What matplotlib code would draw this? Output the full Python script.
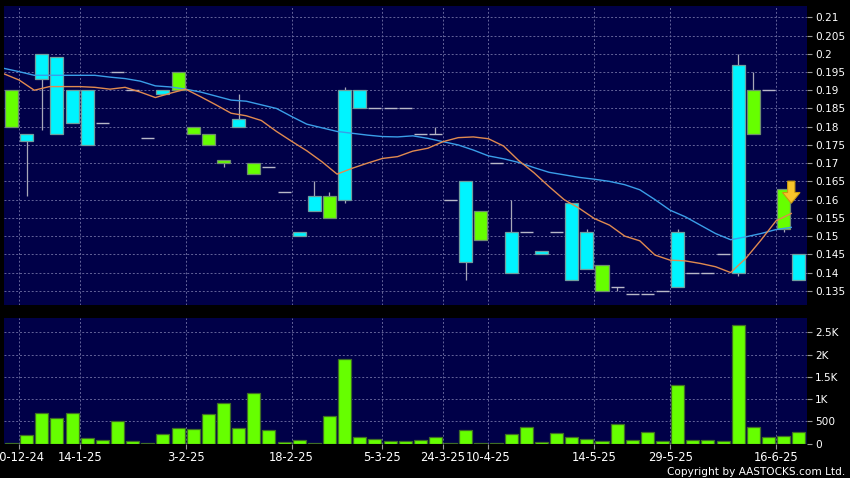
import numpy as np
import matplotlib.pyplot as plt
from matplotlib.patches import Polygon

# OHLC per trading session (53 candles)
opens = [0.180, 0.178, 0.200, 0.199, 0.190, 0.190, 0.181, 0.195, 0.190, 0.177,
         0.190, 0.190, 0.178, 0.175, 0.170, 0.182, 0.167, 0.169, 0.162, 0.151,
         0.161, 0.155, 0.190, 0.190, 0.185, 0.185, 0.185, 0.178, 0.178, 0.160,
         0.165, 0.149, 0.170, 0.151, 0.151, 0.146, 0.151, 0.159, 0.151, 0.135,
         0.136, 0.134, 0.134, 0.135, 0.151, 0.140, 0.140, 0.145, 0.197, 0.178,
         0.190, 0.152, 0.145]
highs = [0.190, 0.178, 0.200, 0.199, 0.190, 0.190, 0.181, 0.195, 0.190, 0.177,
         0.190, 0.195, 0.180, 0.178, 0.171, 0.189, 0.170, 0.169, 0.162, 0.151,
         0.165, 0.162, 0.191, 0.190, 0.185, 0.185, 0.185, 0.178, 0.180, 0.160,
         0.165, 0.157, 0.170, 0.160, 0.151, 0.146, 0.151, 0.159, 0.152, 0.142,
         0.136, 0.134, 0.134, 0.135, 0.152, 0.140, 0.140, 0.145, 0.200, 0.195,
         0.190, 0.163, 0.145]
lows = [0.180, 0.161, 0.179, 0.178, 0.181, 0.175, 0.181, 0.195, 0.190, 0.177,
        0.189, 0.190, 0.178, 0.175, 0.169, 0.180, 0.167, 0.169, 0.162, 0.150,
        0.157, 0.155, 0.159, 0.185, 0.185, 0.185, 0.185, 0.178, 0.178, 0.160,
        0.138, 0.149, 0.170, 0.140, 0.151, 0.145, 0.151, 0.138, 0.141, 0.135,
        0.135, 0.134, 0.134, 0.135, 0.136, 0.140, 0.140, 0.145, 0.139, 0.178,
        0.190, 0.151, 0.138]
closes = [0.190, 0.176, 0.193, 0.178, 0.181, 0.175, 0.181, 0.195, 0.190, 0.177,
          0.189, 0.195, 0.180, 0.178, 0.171, 0.180, 0.170, 0.169, 0.162, 0.150,
          0.157, 0.161, 0.160, 0.185, 0.185, 0.185, 0.185, 0.178, 0.178, 0.160,
          0.143, 0.157, 0.170, 0.140, 0.151, 0.145, 0.151, 0.138, 0.141, 0.142,
          0.136, 0.134, 0.134, 0.135, 0.136, 0.140, 0.140, 0.145, 0.140, 0.190,
          0.190, 0.163, 0.138]
volumes = [20, 195, 695, 583, 688, 128, 83, 502, 60, 5,
           217, 359, 336, 666, 905, 359, 1130, 307, 38, 83,
           20, 628, 1892, 143, 105, 60, 68, 83, 157, 22,
           307, 22, 7, 217, 382, 30, 240, 142, 105, 52,
           434, 75, 254, 60, 1317, 75, 75, 60, 2665, 382,
           157, 180, 254]

# moving averages (orange = short, blue = long)
ma_short = [0.1945, 0.1928, 0.1900, 0.1910, 0.1910, 0.1910, 0.1908, 0.1903, 0.1908, 0.1895,
            0.1880, 0.1892, 0.1903, 0.1882, 0.1860, 0.1837, 0.1830, 0.1817, 0.1787, 0.1760,
            0.1734, 0.1704, 0.1670, 0.1686, 0.1700, 0.1713, 0.1718, 0.1733, 0.1741, 0.1759,
            0.1770, 0.1772, 0.1767, 0.1747, 0.1707, 0.1674, 0.1636, 0.1600, 0.1576, 0.1548,
            0.1530, 0.1500, 0.1487, 0.1448, 0.1434, 0.1432, 0.1425, 0.1416, 0.1400, 0.1439,
            0.1489, 0.1542, 0.1562]
ma_long = [0.1960, 0.1951, 0.1941, 0.1941, 0.1941, 0.1941, 0.1941, 0.1936, 0.1932, 0.1925,
           0.1912, 0.1909, 0.1903, 0.1895, 0.1884, 0.1873, 0.1870, 0.1860, 0.1850, 0.1828,
           0.1807, 0.1797, 0.1787, 0.1782, 0.1777, 0.1773, 0.1772, 0.1775, 0.1768, 0.1759,
           0.1750, 0.1736, 0.1720, 0.1712, 0.1702, 0.1688, 0.1675, 0.1668, 0.1661, 0.1656,
           0.1650, 0.1641, 0.1627, 0.1600, 0.1571, 0.1553, 0.1530, 0.1507, 0.1490, 0.1498,
           0.1507, 0.1518, 0.1524]

date_labels = ['10-12-24', '14-1-25', '3-2-25', '18-2-25', '5-3-25',
               '24-3-25', '10-4-25', '14-5-25', '29-5-25', '16-6-25']
date_index = [1, 5, 12, 19, 25, 29, 32, 39, 44, 51]

price_ticks = [0.135, 0.14, 0.145, 0.15, 0.155, 0.16, 0.165, 0.17, 0.175,
               0.18, 0.185, 0.19, 0.195, 0.2, 0.205, 0.21]
vol_ticks = [0, 500, 1000, 1500, 2000, 2500]
vol_tick_labels = ['0', '500', '1K', '1.5K', '2K', '2.5K']

arrow_candle = 51
arrow_tip = 0.159

NAVY = '#000048'
CYAN = '#00f4ff'
LIME = '#66ff00'
GRID = '#64649a'

fig = plt.figure(figsize=(8.5, 4.78), dpi=100, facecolor='black')
ax = fig.add_axes([0.0047, 0.3619, 0.9447, 0.6255])
axv = fig.add_axes([0.0047, 0.0718, 0.9447, 0.2623])

n = len(opens)
xc = np.arange(n) + 0.5
xm = np.arange(n)
o = np.array(opens)
c = np.array(closes)
w = 0.86

for a in (ax, axv):
    a.set_facecolor(NAVY)
    for s in a.spines.values():
        s.set_visible(False)
    a.yaxis.tick_right()
    a.set_xlim(0, n + 0.04)
    a.set_xticks(date_index)
    a.grid(True, color=GRID, linestyle=(0, (2, 2)), linewidth=0.7)
    a.set_axisbelow(True)
    a.tick_params(axis='y', colors='#9a9a9a', labelcolor='white', labelsize=7.6,
                  length=3.5, width=0.8, pad=2.5)

# price panel
ax.set_ylim(0.1311, 0.2131)
ax.set_yticks(price_ticks)
ax.set_yticklabels([f'{t:g}' for t in price_ticks])
ax.tick_params(axis='x', length=0, labelbottom=False)

ax.vlines(xc, lows, highs, color='#a8a8b8', linewidth=0.9, zorder=2)
flat = o == c
up = (c > o) & ~flat
down = (c < o) & ~flat
ax.bar(xc[up], (c - o)[up], bottom=o[up], width=w, color=LIME,
       edgecolor='#6f8f6f', linewidth=0.9, zorder=3)
ax.bar(xc[down], (o - c)[down], bottom=c[down], width=w, color=CYAN,
       edgecolor='#6f9f9f', linewidth=0.9, zorder=3)
ax.hlines(c[flat], xc[flat] - w / 2, xc[flat] + w / 2, color='#b8b8c8',
          linewidth=1.0, zorder=3)

ax.plot(xm, ma_long, color='#3a9ee8', linewidth=1.0, zorder=4)
ax.plot(xm, ma_short, color='#e08a50', linewidth=1.0, zorder=4)

# down arrow marker beside the candle
ax_x = xc[arrow_candle] + 0.5
span = ax.get_ylim()[1] - ax.get_ylim()[0]
tip = arrow_tip
head = tip + span * 0.036
top = tip + span * 0.074
arrow = Polygon([(ax_x - 0.24, top), (ax_x + 0.24, top), (ax_x + 0.24, head),
                 (ax_x + 0.58, head), (ax_x, tip), (ax_x - 0.58, head),
                 (ax_x - 0.24, head)], closed=True, facecolor='#f7c52a',
                edgecolor='#c99a10', linewidth=0.8, zorder=5)
ax.add_patch(arrow)

# volume panel
axv.set_ylim(0, 2814)
axv.set_yticks(vol_ticks)
axv.set_yticklabels(vol_tick_labels)
axv.bar(xc, volumes, width=w, color=LIME, edgecolor='#3f6e26', linewidth=0.9, zorder=3)
axv.set_xticklabels(date_labels)
axv.tick_params(axis='x', colors='#9a9a9a', labelcolor='white', labelsize=8.3,
                length=3.5, width=0.8, pad=2)

fig.text(0.994, 0.003, 'Copyright by AASTOCKS.com Ltd.', color='white',
         fontsize=7.6, ha='right', va='bottom')

fig.savefig('out.png', dpi=100, facecolor='black')
